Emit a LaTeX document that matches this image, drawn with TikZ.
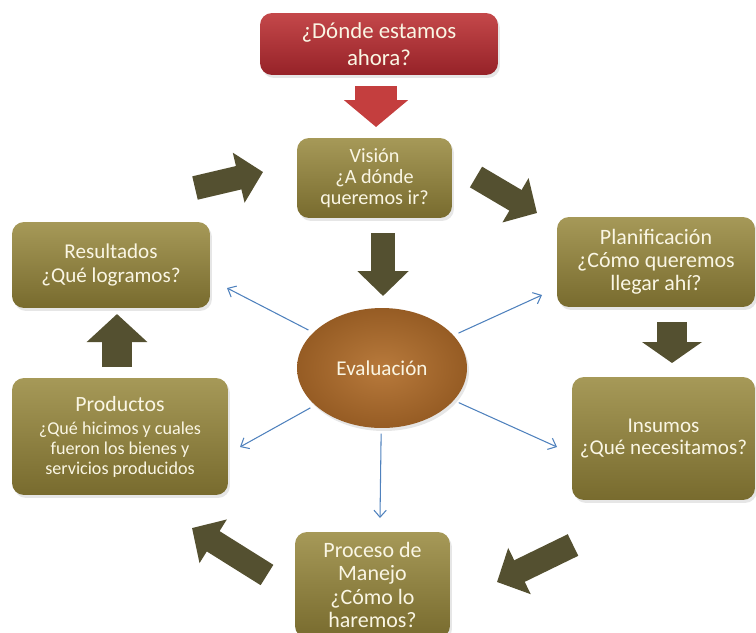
\documentclass[tikz,border=0pt]{standalone}
\usepackage{fontspec}
\setmainfont{Carlito}
\usetikzlibrary{positioning}
\usetikzlibrary{arrows.meta, shapes.geometric, shadows}
\definecolor{boxtop}{RGB}{166,153,88}
\definecolor{boxbot}{RGB}{120,107,46}
\definecolor{boxtext}{RGB}{250,246,228}
\definecolor{redtop}{RGB}{196,72,74}
\definecolor{redbot}{RGB}{150,34,40}
\definecolor{redarr}{RGB}{196,62,62}
\definecolor{darkarr}{RGB}{84,80,48}
\definecolor{evalin}{RGB}{184,122,60}
\definecolor{evalout}{RGB}{150,92,36}
\definecolor{blueline}{RGB}{79,129,189}

\begin{document}
\begin{tikzpicture}[x=0.02cm, y=-0.02cm,
			box/.style = {
				rectangle, rounded corners=0.24cm, top color=boxtop, bottom color=boxbot,
				text=boxtext, align=center, inner sep=2pt,
				drop shadow={opacity=0.2, shadow xshift=0.04cm, shadow yshift=-0.06cm}
			},
			redbox/.style = {
				box, top color=redtop, bottom color=redbot
			},
			evalnode/.style = {
				ellipse, inner color=evalin, outer color=evalout, text=boxtext,
				minimum width=3.4cm, minimum height=2.4cm,
				font=\fontsize{12}{14}\selectfont,
				drop shadow={opacity=0.2, shadow xshift=0.04cm, shadow yshift=-0.06cm}
			},
			fatarrow/.style = {
				draw=darkarr, line width=0.48cm,
				-{Triangle[length=0.5cm, width=1.0cm]}
			},
			thinarrow/.style = {
				draw=blueline, line width=0.6pt, shorten <=3pt,
				-{Straight Barb[length=4pt, width=7pt]}
			}]
			\path [use as bounding box, clip] (0,0) rectangle (756,632);
			\node (now) [redbox, minimum width=4.76cm, minimum height=1.24cm,
			font=\fontsize{13}{15.3}\selectfont] at (379,44) {¿Dónde estamos\\ahora?};
			\node (vision) [box, minimum width=3.1cm, minimum height=1.6cm,
			font=\fontsize{11.5}{12}\selectfont] at (374.5,178) {Visión\\¿A dónde\\queremos ir?};
			\node (res) [box, minimum width=3.96cm, minimum height=1.72cm,
			font=\fontsize{12}{14}\selectfont] at (111,265) {Resultados\\¿Qué logramos?};
			\node (prod) [box, minimum width=4.32cm, minimum height=2.34cm,
			font=\fontsize{10.3}{11.3}\selectfont] at (120,436.5)
			{{\fontsize{12.4}{14}\selectfont Productos}\\[2pt]¿Qué hicimos y cuales\\fueron los bienes y\\servicios producidos};
			\node (eval) [evalnode] at (382,368) {Evaluación};
			\node (plan) [box, minimum width=3.96cm, minimum height=1.8cm,
			font=\fontsize{12.5}{13}\selectfont] at (656,262) {Planificación\\¿Cómo queremos\\llegar ahí?};
			\node (ins) [box, minimum width=3.66cm, minimum height=2.46cm,
			font=\fontsize{12}{12.5}\selectfont] at (663.5,438.5) {Insumos\\¿Qué necesitamos?};
			\node (proc) [box, minimum width=3.1cm, minimum height=2.12cm,
			font=\fontsize{12.5}{13.3}\selectfont] at (372.5,585) {Proceso de\\Manejo\\¿Cómo lo\\haremos?};

			\coordinate (nowA) at (376,86);   \coordinate (nowB) at (376,127);
			\coordinate (visA) at (383,233);  \coordinate (visB) at (383,296);
			\coordinate (resA) at (195,188);  \coordinate (resB) at (263,172);
			\coordinate (visC) at (476,177);  \coordinate (visD) at (537,213);
			\coordinate (planA) at (672,322); \coordinate (planB) at (672,363);
			\coordinate (insA) at (573,545);  \coordinate (insB) at (497,582);
			\coordinate (procA) at (267,575); \coordinate (procB) at (192,528);
			\coordinate (prodA) at (117,367); \coordinate (prodB) at (117,314);

			\draw [fatarrow, draw=redarr, line width=0.84cm,
			-{Triangle[length=0.54cm, width=1.26cm]}] (nowA) -- (nowB);
			\draw [fatarrow] (visA) -- (visB);
			\draw [fatarrow] (resA) -- (resB);
			\draw [fatarrow] (visC) -- (visD);
			\draw [fatarrow, line width=0.6cm,
			-{Triangle[length=0.42cm, width=1.18cm]}] (planA) -- (planB);
			\draw [fatarrow] (insA) -- (insB);
			\draw [fatarrow] (procA) -- (procB);
			\draw [fatarrow, line width=0.6cm,
			-{Triangle[length=0.56cm, width=1.18cm]}] (prodA) -- (prodB);

			\coordinate (tRes) at (227,288);
			\coordinate (tPlan) at (542,295);
			\coordinate (tIns) at (557,447);
			\coordinate (tProd) at (240,447);
			\coordinate (tProc) at (380,518);
			\draw [thinarrow] (eval) -- (tRes);
			\draw [thinarrow] (eval) -- (tPlan);
			\draw [thinarrow] (eval) -- (tIns);
			\draw [thinarrow] (eval) -- (tProd);
			\draw [thinarrow] (eval) -- (tProc);
		\end{tikzpicture}
\end{document}
